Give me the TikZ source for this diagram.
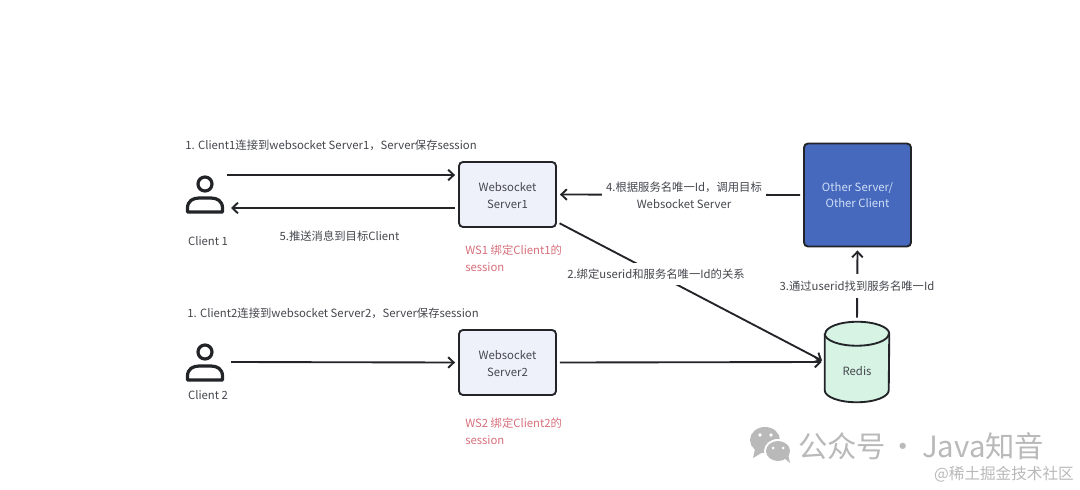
\documentclass[tikz,border=0pt]{standalone}
\usepackage{fontspec}
\setmainfont{Noto Sans CJK SC}
\usetikzlibrary{arrows.meta,calc}
\def\px{0.75pt}
\definecolor{inkline}{HTML}{222428}
\definecolor{inktext}{HTML}{45474D}
\definecolor{boxfill}{HTML}{EEF1FA}
\definecolor{bluefill}{HTML}{4669BE}
\definecolor{bluetext}{HTML}{CFDFF7}
\definecolor{dbfill}{HTML}{D6F3E4}
\definecolor{notered}{HTML}{D8707C}
\definecolor{markgrey}{HTML}{B9B9B9}
\tikzset{
  x=0.75pt,y=-0.75pt,
  every node/.style={font=\fontsize{8.5}{12.5}\selectfont,text=inktext,inner sep=0pt},
  conn/.style={draw=inkline,line width=1.4pt,-{Straight Barb[length=4.2pt,width=8pt,line width=1.4pt]}},
  serverbox/.style={draw=inkline,line width=1.4pt,fill=boxfill,rounded corners=3pt,align=center,
    minimum width=97*\px,minimum height=65*\px},
  caption/.style={fill=white,align=center,inner xsep=3pt,inner ysep=5pt},
  note/.style={text=notered,align=left,anchor=north west},
  figure/.style={draw=inkline,line width=2.4pt},
}
\begin{document}
\begin{tikzpicture}
\useasboundingbox (0,0) rectangle (1080,489);
\fill[white] (0,0) rectangle (1080,489);

% Clients, each a head and shoulders glyph
\foreach \nm/\cy in {one/184,two/352}{
  \draw[figure] (205,\cy) circle (7);
  \draw[figure,line join=round] (187.5,\cy+28) -- (187.5,\cy+24)
    .. controls (187.5,\cy+17) and (193,\cy+14) .. (199,\cy+14)
    -- (211,\cy+14)
    .. controls (217,\cy+14) and (222.5,\cy+17) .. (222.5,\cy+24)
    -- (222.5,\cy+28) -- cycle;
}
\coordinate (clientOneOut) at (227,175);
\coordinate (clientOneIn) at (231,208);
\coordinate (clientTwoOut) at (231,362);
\node (clientOneName) at (208,241) {Client 1};
\node (clientTwoName) at (208,395) {Client 2};

% Servers
\node[serverbox] (sone) at (507.5,194.5) {\parbox{71pt}{\vspace*{1.5pt}\centering Websocket\\Server1}};
\node[serverbox] (stwo) at (507.5,362.5) {\parbox{71pt}{\vspace*{1.5pt}\centering Websocket\\Server2}};
\node[draw=inkline,line width=1.4pt,fill=bluefill,rounded corners=3pt,align=center,text=bluetext,
  minimum width=107*\px,minimum height=103*\px] (other) at (857.5,195) {Other Server/\\Other Client};

% Redis cylinder around a plain anchor node
\node[minimum width=64*\px,minimum height=80*\px] (redis) at (857,362) {};
\draw[inkline,line width=1.4pt,fill=dbfill]
  ($(redis.north west)+(0,12)$)
  -- ($(redis.south west)+(0,-12)$)
  arc[start angle=180,end angle=0,x radius=32,y radius=12]
  -- ($(redis.north east)+(0,12)$)
  arc[start angle=0,end angle=-180,x radius=32,y radius=12];
\draw[inkline,line width=1.4pt]
  ($(redis.north west)+(0,12)$) arc[start angle=180,end angle=0,x radius=32,y radius=12];
\node (redisName) at (857,371.5) {Redis};

% Connectors
\draw[conn,shorten >=2.25pt] (clientOneOut) -- (sone.west |- clientOneOut);
\draw[conn,shorten <=2.25pt] (sone.west |- clientOneIn) -- (clientOneIn);
\draw[conn,shorten >=2.25pt] (clientTwoOut) -- (stwo.west);
\draw[conn,shorten <=2.25pt,shorten >=2.25pt] (other.west) -- (sone.east);
\draw[conn,shorten <=2.25pt,shorten >=2.25pt] (sone.-29) -- (redis.west);
\draw[conn,shorten <=2.25pt,shorten >=2.25pt] (stwo.east) -- (redis.west);
\draw[conn,shorten <=3pt,shorten >=2.25pt] (redis.north) -- (other.south);

% Captions
\node (capa) at (331,145) {1. Client1连接到websocket Server1，Server保存session};
\node (capb) at (339.5,236) {5.推送消息到目标Client};
\node (capc) at (333,313.5) {1. Client2连接到websocket Server2，Server保存session};
\node[caption] (capd) at (684,195.5) {4.根据服务名唯一Id，调用目标\\Websocket Server};
\node[caption,inner ysep=4pt] (cape) at (656,274) {2.绑定userid和服务名唯一Id的关系};
\node[caption,inner ysep=5pt] (capf) at (857,286) {3.通过userid找到服务名唯一Id};
\node[note] (notea) at (465,245) {WS1 绑定Client1的\\session};
\node[note] (noteb) at (465,418) {WS2 绑定Client2的\\session};

% Publisher marks in the corner
\begin{scope}
  \fill[markgrey] (765,440) ellipse (15 and 13);
  \fill[markgrey] (755,449) -- (753,458) -- (763,452) -- cycle;
  \fill[white] (778,451) ellipse (14 and 12);
  \fill[markgrey] (778,451) ellipse (12 and 10);
  \fill[markgrey] (784,458) -- (790,463) -- (788,454) -- cycle;
  \fill[white] (760,435) circle (1.9) (771,435) circle (1.9) (773,448) circle (1.5) (783,448) circle (1.5);
\end{scope}
\node[text=markgrey,anchor=west,font=\fontsize{22}{26}\selectfont] (brand) at (798,446) {公众号\hspace{2pt}·\hspace{3pt}Java知音};
\node[text=markgrey,anchor=east,font=\fontsize{11.7}{14}\selectfont] (site) at (1074,474) {@稀土掘金技术社区};
\end{tikzpicture}
\end{document}
